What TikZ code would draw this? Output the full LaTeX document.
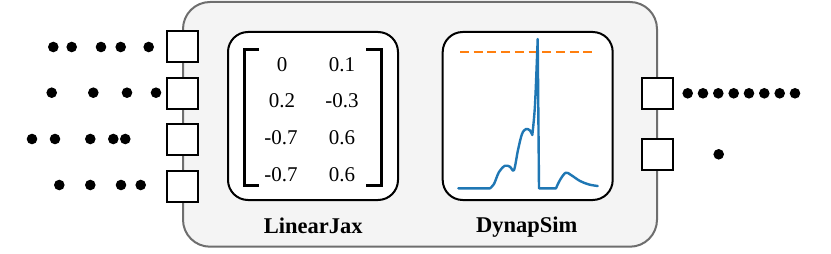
\documentclass[tikz,border=0pt]{standalone}
\usepackage{fontspec}
\setmainfont{Liberation Serif}
\definecolor{boxfill}{HTML}{F4F4F4}
\definecolor{boxline}{HTML}{6E6E6E}
\definecolor{mplblue}{HTML}{1F77B4}
\definecolor{mplorange}{HTML}{FF7F0E}
\tikzset{
  port/.style={draw=black, fill=white, line width=2pt, minimum size=31pt, inner sep=0pt},
  spk/.style={circle, fill=black, minimum size=10.6pt, inner sep=0pt},
  modbox/.style={draw=black, fill=white, line width=2pt, rounded corners=20pt, minimum width=170pt, minimum height=168pt, inner sep=0pt},
  modlabel/.style={font=\fontsize{22.5}{26}\selectfont\bfseries, inner sep=0pt},
  entry/.style={font=\fontsize{21}{25}\selectfont, inner sep=0pt},
  bracket/.style={line width=3pt},
  trace/.style={draw=mplblue, line width=2.4pt, line join=round, line cap=round},
}
\begin{document}
\begin{tikzpicture}[x=1pt,y=-1pt]
\useasboundingbox (0,0) rectangle (831,254);
% outer module
\node[draw=boxline, fill=boxfill, line width=2pt, rounded corners=27pt, minimum width=474pt, minimum height=244.7pt, inner sep=0pt] (outer) at (420,124.35) {};
% inner modules
\node[modbox] (lin) at (313,116) {};
\node[modbox] (dyn) at (527.7,116) {};
\node[modlabel] (linlab) at (313.3,225.7) {LinearJax};
\node[modlabel] (dynlab) at (526.7,226.7) {DynapSim};
% matrix
\draw[bracket] (259,50) -- (244,50) -- (244,185) -- (259,185);
\draw[bracket] (366,50) -- (381,50) -- (381,185) -- (366,185);
\node[entry] (m11) at (282,64.3) {0};
\node[entry] (m12) at (342,64.3) {0.1};
\node[entry] (m21) at (282,100.5) {0.2};
\node[entry] (m22) at (342,100.5) {-0.3};
\node[entry] (m31) at (281,137.7) {-0.7};
\node[entry] (m32) at (342,137.7) {0.6};
\node[entry] (m41) at (281,174.3) {-0.7};
\node[entry] (m42) at (342,174.3) {0.6};
% plot
\coordinate (th0) at (460,52.3);
\coordinate (th1) at (595,52.3);
\draw[mplorange, line width=2.4pt, dash pattern=on 9pt off 4.7pt] (th0) -- (th1);
\draw[trace] (458.3,188.3) -- (490,188.3)
  -- plot[smooth, tension=0.55] coordinates {(490,188.3) (494,184) (499,172) (505,165.7) (510,166.8) (514,170) (518,150) (522,134) (526,129) (530,130.5) (532.3,135)}
  -- plot[smooth, tension=0.5] coordinates {(532.3,135) (535,105) (537.7,39)}
  -- (539,188.3) -- (556,188.3)
  -- plot[smooth, tension=0.55] coordinates {(556,188.3) (560,180) (565.7,172.7) (571,175) (580,181) (589,184.5) (597.7,186)};
% input ports
\node[port] (in1) at (182.5,47) {};
\node[port] (in2) at (182.5,93.5) {};
\node[port] (in3) at (182.5,139.5) {};
\node[port] (in4) at (182.5,186) {};
% output ports
\node[port] (out1) at (657.5,93.5) {};
\node[port] (out2) at (657.5,154.5) {};
% input spikes
\foreach \x [count=\i] in {53.3,71.7,101,120.7,148.7} \node[spk] (sa\i) at (\x,47) {};
\foreach \x [count=\i] in {51.7,93.3,127,156} \node[spk] (sb\i) at (\x,92.7) {};
\foreach \x [count=\i] in {32,55,90.3,113.3,125.3} \node[spk] (sc\i) at (\x,139) {};
\foreach \x [count=\i] in {59.3,90.3,121,140.7} \node[spk] (sd\i) at (\x,185) {};
% output spikes
\foreach \x [count=\i] in {687.7,703,718.3,733.7,749,764.3,779.7,795} \node[spk] (oa\i) at (\x,93.3) {};
\node[spk] (ob1) at (718.7,154.3) {};
\end{tikzpicture}
\end{document}
